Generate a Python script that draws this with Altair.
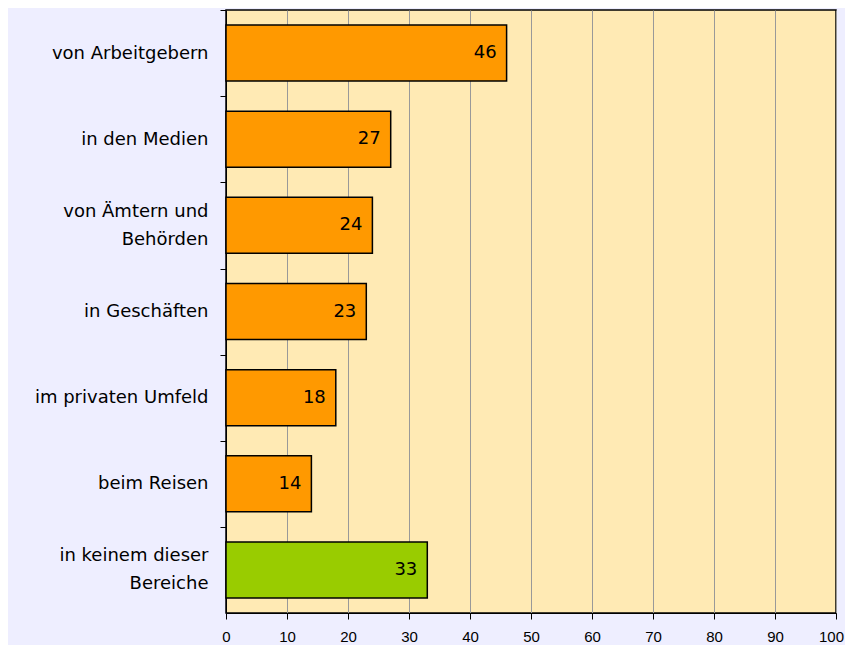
import altair as alt
import pandas as pd

categories = ["von Arbeitgebern", "in den Medien", "von Ämtern und\nBehörden",
              "in Geschäften", "im privaten Umfeld", "beim Reisen",
              "in keinem dieser\nBereiche"]
values = [46, 27, 24, 23, 18, 14, 33]
groups = ["a", "a", "a", "a", "a", "a", "b"]
x_ticks = [0, 10, 20, 30, 40, 50, 60, 70, 80, 90, 100]

df = pd.DataFrame({"cat": categories, "val": values, "grp": groups})

y_enc = alt.Y("cat:N", sort=categories,
              scale=alt.Scale(paddingInner=0.35, paddingOuter=0.175),
              axis=alt.Axis(title=None, labelExpr="split(datum.label, '\\n')",
                            tickOffset=-43, tickSize=6, tickColor="black",
                            domainColor="black", labelFont="DejaVu Sans",
                            labelFontSize=18, labelColor="black", labelPadding=12,
                            labelLineHeight=28, labelLimit=300,
                            labelOffset={"condition": {"test": "indexof(datum.value, '\\n') >= 0",
                                                       "value": 29},
                                         "value": 43}))
x_enc = alt.X("val:Q", scale=alt.Scale(domain=[0, 100], nice=False),
              axis=alt.Axis(title=None, values=x_ticks, grid=True, gridColor="#999999",
                            gridWidth=1, tickSize=6, tickColor="black", labelFlush=False,
                            labelOffset={"condition": {"test": "datum.value >= 100", "value": -5},
                                         "value": 0},
                            domainColor="black", labelFont="Liberation Sans",
                            labelFontSize=15, labelColor="black", labelPadding=10))

bars = alt.Chart(df).mark_bar(stroke="black", strokeWidth=1.5).encode(
    x=x_enc, y=y_enc,
    color=alt.Color("grp:N", scale=alt.Scale(domain=["a", "b"], range=["#FF9900", "#99CC00"]),
                    legend=None))

labels = alt.Chart(df).mark_text(align="right", baseline="middle", dx=-10,
                                 font="DejaVu Sans", fontSize=18, color="black").encode(
    x="val:Q", y=alt.Y("cat:N", sort=categories), text="val:Q")

chart = (bars + labels).properties(
    width=610, height=603,
    background="#EEEEFF",
    padding={"left": 218, "top": 2, "right": 9, "bottom": 32},
    autosize=alt.AutoSizeParams(type="none"),
).configure_view(fill="#FFEAB4", stroke="black", strokeWidth=1.5)

chart.save("out.html", embed_options={"renderer": "svg", "actions": False})
